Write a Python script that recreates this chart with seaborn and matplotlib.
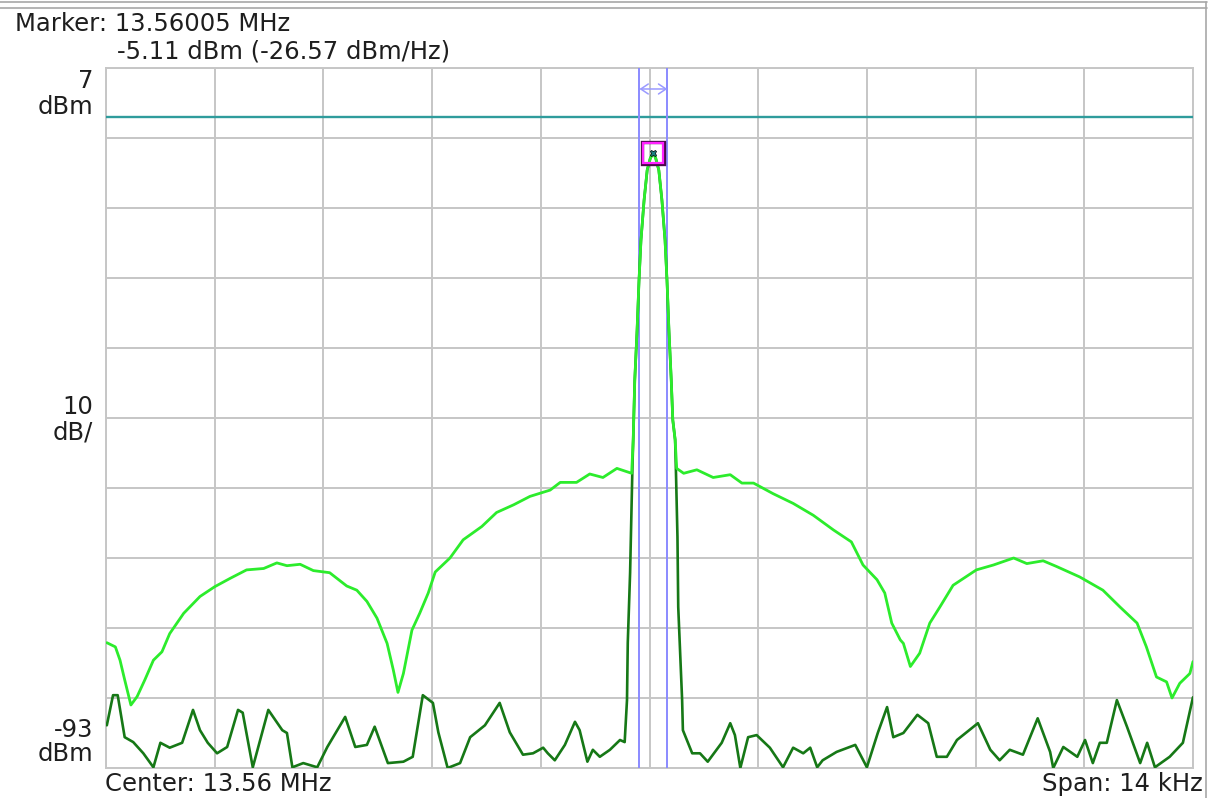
import matplotlib
matplotlib.use("Agg")
import matplotlib.pyplot as plt
from matplotlib.lines import Line2D
import seaborn as sns
import numpy as np

# frequency offset from 13.56 MHz centre (kHz) and level (dBm)
light_left_f = [-6.99, -6.88, -6.82, -6.76, -6.68, -6.60, -6.50, -6.39, -6.28, -6.18,
                -6.00, -5.79, -5.60, -5.40, -5.19, -4.97, -4.80, -4.67, -4.50, -4.33,
                -4.12, -3.90, -3.77, -3.64, -3.51, -3.38, -3.30, -3.24, -3.17, -3.06,
                -2.96, -2.85, -2.76, -2.57, -2.40, -2.16, -1.97, -1.75, -1.54, -1.28,
                -1.15, -0.94, -0.77, -0.60, -0.42, -0.23]
light_left_db = [-75.1, -75.7, -77.6, -80.4, -84.0, -82.8, -80.4, -77.6, -76.4, -73.8,
                 -70.9, -68.5, -67.1, -65.9, -64.7, -64.5, -63.7, -64.1, -63.9, -64.8,
                 -65.1, -67.0, -67.6, -69.2, -71.6, -75.2, -79.0, -82.2, -79.5, -73.3,
                 -70.9, -68.0, -65.0, -63.0, -60.4, -58.5, -56.5, -55.4, -54.2, -53.3,
                 -52.2, -52.2, -51.0, -51.5, -50.2, -50.9]

lobe_f = [-0.21, -0.19, -0.16, -0.135, -0.11, -0.07, -0.03, 0.01, 0.05,
          0.08, 0.12, 0.16, 0.20, 0.225, 0.25, 0.28, 0.30, 0.33]
lobe_db = [-46.1, -37.6, -30.4, -23.3, -17.6, -11.9, -7.6, -5.9, -5.1,
           -5.9, -7.6, -11.9, -17.6, -23.3, -30.4, -37.6, -43.3, -46.1]

light_right_f = [0.35, 0.44, 0.61, 0.82, 1.04, 1.19, 1.34, 1.59, 1.85, 2.11,
                 2.37, 2.60, 2.75, 2.93, 3.03, 3.12, 3.23, 3.27, 3.36, 3.48,
                 3.61, 3.74, 3.91, 4.21, 4.43, 4.69, 4.86, 5.07, 5.24, 5.54,
                 5.84, 6.06, 6.28, 6.40, 6.53, 6.66, 6.73, 6.83, 6.96, 7.00]
light_right_db = [-50.2, -50.9, -50.4, -51.5, -51.1, -52.3, -52.3, -53.8, -55.2, -56.9,
                  -59.0, -60.7, -64.0, -66.1, -68.0, -72.3, -74.7, -75.2, -78.5, -76.6,
                  -72.3, -70.0, -66.9, -64.7, -64.0, -63.0, -63.8, -63.4, -64.2, -65.7,
                  -67.6, -70.0, -72.3, -75.7, -80.0, -80.7, -83.0, -80.9, -79.5, -77.8]

dark_left_f = [-6.99, -6.91, -6.85, -6.76, -6.65, -6.52, -6.39, -6.30, -6.18, -6.02,
               -5.88, -5.79, -5.69, -5.57, -5.44, -5.30, -5.24, -5.11, -4.91, -4.73,
               -4.67, -4.60, -4.46, -4.28, -4.15, -3.92, -3.79, -3.64, -3.54, -3.37,
               -3.17, -3.05, -2.92, -2.79, -2.72, -2.60, -2.44, -2.31, -2.12, -1.93,
               -1.80, -1.63, -1.50, -1.37, -1.31, -1.22, -1.09, -0.96, -0.90, -0.80,
               -0.73, -0.64, -0.51, -0.38, -0.32, -0.29, -0.28, -0.25, -0.23, -0.22]
dark_left_db = [-86.9, -82.6, -82.6, -88.6, -89.3, -90.9, -92.9, -89.4, -90.1, -89.4,
                -84.7, -87.6, -89.4, -90.9, -90.0, -84.7, -85.1, -92.9, -84.7, -87.6,
                -88.0, -92.9, -92.3, -92.9, -90.0, -85.7, -90.0, -89.7, -87.1, -92.3,
                -92.1, -91.4, -82.6, -83.7, -87.9, -93.0, -92.3, -88.6, -86.9, -83.7,
                -87.9, -91.1, -90.9, -90.1, -90.9, -91.9, -89.7, -86.4, -87.6, -92.1,
                -90.4, -91.4, -90.4, -89.0, -89.3, -83.3, -75.1, -65.1, -55.1, -50.0]

dark_right_f = [0.34, 0.36, 0.37, 0.42, 0.43, 0.55, 0.65, 0.75, 0.93, 1.04,
                1.10, 1.17, 1.27, 1.38, 1.55, 1.72, 1.85, 1.98, 2.07, 2.16,
                2.23, 2.41, 2.65, 2.80, 2.94, 3.06, 3.14, 3.27, 3.45, 3.59,
                3.70, 3.83, 3.96, 4.23, 4.39, 4.51, 4.64, 4.81, 5.00, 5.16,
                5.20, 5.33, 5.51, 5.61, 5.71, 5.80, 5.89, 6.02, 6.15, 6.32,
                6.41, 6.51, 6.70, 6.87, 7.00]
dark_right_db = [-50.4, -60.0, -70.0, -83.3, -87.6, -90.9, -90.9, -92.1, -89.4, -86.6,
                 -88.3, -93.0, -88.6, -88.3, -90.1, -92.9, -90.1, -90.9, -90.1, -92.9,
                 -91.9, -90.7, -89.7, -92.9, -88.0, -84.3, -88.6, -88.0, -85.4, -86.6,
                 -91.4, -91.4, -89.0, -86.6, -90.4, -91.9, -90.4, -91.1, -85.9, -90.7,
                 -93.0, -90.0, -91.4, -89.0, -92.3, -89.4, -89.4, -83.3, -87.1, -92.3,
                 -89.4, -92.9, -91.4, -89.4, -82.9]

ref_level = 0.0        # dBm, reference line
marker_f = 0.05        # kHz offset (13.56005 MHz)
marker_db = -5.11
band_half = 0.18       # kHz, channel band edges around the marker
y_top, y_bottom = 7, -93
span = 14.0            # kHz

light_f = np.array(light_left_f + lobe_f + light_right_f)
light_db = np.array(light_left_db + lobe_db + light_right_db)
dark_f = np.array(dark_left_f + lobe_f + dark_right_f)
dark_db = np.array(dark_left_db + lobe_db + dark_right_db)

sns.set_style("white")
plt.rcParams['font.family'] = ['DejaVu Sans']

fig = plt.figure(figsize=(12.12, 7.98), dpi=100)
ax = fig.add_axes([0.0875, 0.0376, 0.8968, 0.8772])

grid_c = '#c6c6c6'
ax.set_xlim(-span / 2, span / 2)
ax.set_ylim(y_bottom, y_top)
ax.set_xticks(np.linspace(-span / 2, span / 2, 11))
ax.set_yticks(np.arange(y_bottom, y_top + 1, 10))
ax.tick_params(length=0, labelbottom=False, labelleft=False)
ax.grid(True, color=grid_c, linewidth=1.4)
for s in ax.spines.values():
    s.set_color(grid_c)
    s.set_linewidth(1.4)

# reference line and band markers
ax.axhline(ref_level, color='#2f9c9c', linewidth=1.7, zorder=3)
for xb in (marker_f - band_half, marker_f + band_half):
    ax.axvline(xb, color='#8a8aff', linewidth=1.4, zorder=3)
ax.annotate('', xy=(marker_f - band_half, 4.0), xytext=(marker_f + band_half, 4.0),
            arrowprops=dict(arrowstyle='<->,head_length=0.45,head_width=0.3', color='#9a9aff',
                            lw=1.1, mutation_scale=12, shrinkA=0, shrinkB=0), zorder=4)

# traces
sns.lineplot(x=dark_f, y=dark_db, color='#167816', linewidth=1.9,
             estimator=None, sort=False, ax=ax, zorder=4)
sns.lineplot(x=light_f, y=light_db, color='#2cec2c', linewidth=2.0,
             estimator=None, sort=False, ax=ax, zorder=5)

# marker box
ax.plot([marker_f], [marker_db], marker='s', markersize=16.5, markerfacecolor='none',
        markeredgecolor='#4a0a4a', markeredgewidth=2.4, zorder=6)
ax.plot([marker_f], [marker_db], marker='s', markersize=13.8, markerfacecolor='none',
        markeredgecolor='#ff22ff', markeredgewidth=1.6, zorder=7)
ax.plot([marker_f], [marker_db], marker='X', markersize=5, color='#1a8080',
        markeredgecolor='black', markeredgewidth=0.5, zorder=7)

ax.set_xlabel('')
ax.set_ylabel('')

# text annotations
fs = 17.5
tc = '#1e1e1e'
fig.text(15 / 1212, 1 - 24 / 798, 'Marker: 13.56005 MHz', fontsize=fs, color=tc, va='center')
fig.text(117 / 1212, 1 - 52 / 798, '-5.11 dBm (-26.57 dBm/Hz)', fontsize=fs, color=tc, va='center')
for txt, yp in [('7', 81), ('dBm', 107), ('10', 407), ('dB/', 432), ('-93', 730), ('dBm', 754)]:
    fig.text(93 / 1212, 1 - yp / 798, txt, fontsize=fs, color=tc, ha='right', va='center')
fig.text(105 / 1212, 1 - 784 / 798, 'Center: 13.56 MHz', fontsize=fs, color=tc, va='center')
fig.text(1203 / 1212, 1 - 784 / 798, 'Span: 14 kHz', fontsize=fs, color=tc, ha='right', va='center')

# window frame
frame_c = '#a8a8a8'
fig.add_artist(Line2D([0, 1207 / 1212], [1 - 2 / 798, 1 - 2 / 798], color=frame_c, lw=1.2))
fig.add_artist(Line2D([0, 1207 / 1212], [1 - 8 / 798, 1 - 8 / 798], color=frame_c, lw=1.2))
fig.add_artist(Line2D([1206 / 1212, 1206 / 1212], [0, 1 - 2 / 798], color=frame_c, lw=1.2))

fig.savefig('out.png', dpi=100)
